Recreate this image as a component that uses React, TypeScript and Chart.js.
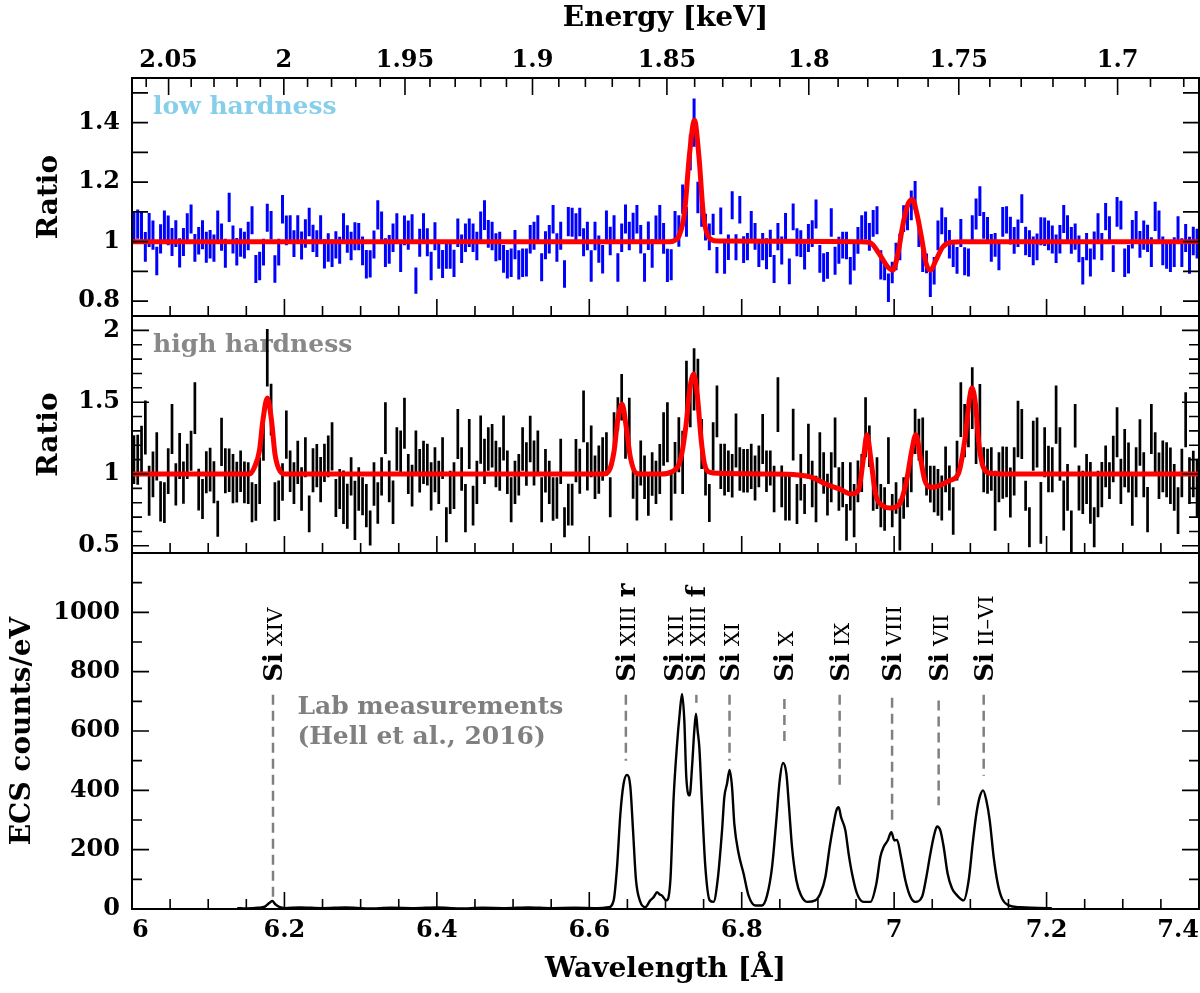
import React, { useEffect, useRef } from 'react';
import { Chart, registerables } from 'chart.js';

Chart.register(...registerables);
Chart.defaults.font.family = 'DejaVu Serif';
Chart.defaults.color = '#000';

const HC = 12.39842; // keV * Angstrom, for the energy axis on top

// ratio spectra share one wavelength grid (bin centres)
const binStart = 6.0025;
const binWidth = 0.005;

const waveTicks = [6, 6.2, 6.4, 6.6, 6.8, 7, 7.2, 7.4];
const energyTicks = [2.05, 2, 1.95, 1.9, 1.85, 1.8, 1.75, 1.7];
const lowTicks = [0.8, 1, 1.2, 1.4];
const highTicks = [0.5, 1, 1.5, 2];
const labTicks = [0, 200, 400, 600, 800, 1000];

// low hardness ratio, one value per bin
const lowRatio = [
  1.05,
  1.059, 1.054, 0.982, 1.039, 1.022, 0.935, 1.009, 1.055, 1.038, 0.999,
  1.027, 0.962, 0.999, 1.046, 1.076, 0.979, 1.003, 1.023, 0.981, 0.991,
  0.978, 1.055, 1.015, 0.961, 1.115, 1.007, 0.966, 0.997, 0.988, 1.019,
  1.072, 0.908, 0.918, 0.965, 1.080, 1.055, 0.908, 0.965, 1.109, 1.038,
  1.041, 0.993, 1.041, 0.987, 1.027, 1.066, 1.011, 0.993, 1.041, 0.959,
  0.980, 0.961, 0.989, 0.971, 1.047, 1.009, 0.985, 1.018, 1.017, 0.969,
  0.924, 0.925, 0.990, 1.090, 1.053, 0.963, 0.974, 1.013, 1.047, 0.947,
  1.038, 1.022, 1.043, 0.869, 0.996, 1.047, 0.998, 0.918, 1.018, 0.953,
  0.925, 0.954, 0.954, 0.927, 1.030, 0.976, 1.013, 1.030, 1.013, 0.985,
  1.053, 1.089, 1.026, 1.019, 0.981, 0.985, 0.942, 0.924, 0.929, 0.990,
  0.922, 0.929, 0.930, 1.008, 1.020, 1.041, 0.914, 0.988, 1.008, 1.075,
  0.980, 1.020, 0.891, 1.067, 1.065, 1.047, 1.066, 0.998, 1.019, 0.918,
  1.019, 0.975, 0.941, 1.055, 1.002, 1.041, 0.913, 1.013, 1.076, 1.019,
  1.048, 1.075, 1.008, 0.913,
  1.02, 0.96, 1.04,
  1.064, 1.011, 0.920, 0.922, 1.054, 1.036, 1.143, 1.066, 1.300, 1.400,
  1.148, 1.100, 1.049, 1.016, 1.058, 0.938, 1.070, 0.948, 0.981, 1.122,
  0.981, 1.107, 0.973, 0.983, 1.055, 1.018, 0.961, 0.983, 0.959, 0.994,
  0.908, 1.017, 0.970, 1.050, 0.900, 1.083, 0.998, 0.993, 0.950, 1.012,
  1.027, 1.093, 0.942, 0.913, 0.920, 1.064, 0.936, 0.971, 0.988, 0.987,
  0.902, 0.948, 1.004, 1.041, 1.054, 1.016, 1.061, 1.072, 0.922, 0.904,
  0.845, 0.896, 0.950, 0.982, 1.077, 1.083, 1.122, 1.155, 1.027, 0.937,
  0.927, 0.862, 0.902, 1.021, 1.070, 1.035, 0.991, 0.960, 0.937, 1.029,
  0.934, 0.930, 1.041, 1.093, 1.136, 1.055, 1.038, 0.979, 0.989, 0.954,
  1.066, 1.073, 1.037, 1.004, 1.028, 1.111, 1.002, 0.993, 0.969, 0.982,
  1.035, 1.033, 1.021, 1.007, 0.976, 1.008, 1.076, 1.041, 1.004, 1.017,
  0.976, 0.902, 0.983, 0.930, 0.987, 1.047, 0.983, 1.084, 1.040, 0.943,
  1.100, 1.089, 0.929, 0.941, 1.025, 1.055, 0.991, 1.022, 1.011, 0.965,
  1.085, 1.055, 0.969, 0.957, 0.946, 0.965, 1.039, 0.963, 1.012, 0.954,
  1.002, 0.993,
];

// half error bar length, in units of 0.001
const lowErrMilli = [
  49,
  49, 48, 50, 57, 49, 48, 49, 50, 50, 47, 45, 49, 47, 49, 49, 47, 46, 49, 52, 48,
  46, 50, 46, 49, 49, 47, 46, 48, 45, 48, 47, 47, 48, 45, 47, 48, 46, 45, 48, 50,
  48, 45, 48, 47, 48, 48, 46, 45, 48, 49, 48, 46, 46, 45, 48, 46, 48, 47, 46, 48,
  48, 46, 47, 49, 48, 48, 48, 48, 48, 49, 50, 49, 49, 44, 47, 48, 47, 48, 47, 44,
  47, 45, 45, 46, 48, 48, 48, 48, 48, 48, 48, 50, 47, 48, 47, 48, 47, 48, 48, 49,
  49, 48, 47, 48, 47, 48, 47, 47, 48, 48, 48, 47, 46, 49, 49, 48, 48, 47, 48, 53,
  48, 46, 48, 50, 48, 48, 48, 48, 49, 48, 49, 48, 48, 48,
  48, 48, 48,
  59, 52, 56, 52, 49, 53, 49, 50, 60, 81, 53, 50, 45, 45, 36, 44, 45, 56, 43, 47,
  44, 46, 45, 46, 48, 45, 46, 46, 52, 46, 47, 46, 47, 46, 43, 45, 47, 45, 44, 47,
  45, 49, 47, 48, 45, 48, 47, 45, 45, 46, 46, 45, 45, 48, 47, 47, 45, 47, 49, 34,
  48, 36, 46, 45, 45, 45, 50, 49, 45, 39, 33, 48, 46, 50, 45, 47, 48, 45, 45, 47,
  47, 47, 48, 52, 50, 45, 45, 47, 40, 50, 50, 46, 47, 45, 46, 48, 48, 45, 48, 45,
  47, 48, 50, 47, 48, 48, 47, 48, 45, 44, 45, 46, 46, 47, 47, 48, 46, 46, 45, 45,
  50, 48, 48, 48, 48, 48, 45, 49, 46, 50, 49, 50, 48, 48, 48, 50, 46, 48, 47, 62,
  48, 50,
];

// high hardness ratio, one value per bin
const highRatio = [
  1.10,
  1.100, 1.162, 1.323, 0.884, 0.998, 1.123, 0.810, 0.800, 1.020, 1.313,
  0.928, 1.125, 0.940, 1.088, 1.162, 1.459, 0.891, 0.826, 1.012, 1.030,
  0.942, 0.689, 1.223, 1.023, 1.026, 0.968, 0.944, 1.019, 0.942, 0.937,
  0.803, 0.803, 0.954, 1.220, 1.810, 1.448, 0.807, 0.817, 0.944, 1.274,
  1.019, 0.937, 1.081, 0.896, 1.116, 0.722, 1.026, 1.058, 0.961, 1.077,
  1.123, 1.193, 0.833, 0.896, 0.838, 0.775, 0.984, 0.747, 0.896, 0.845,
  0.780, 0.624, 0.930, 0.798, 0.984, 1.320, 0.949, 0.803, 1.174, 1.151,
  1.353, 1.000, 0.919, 1.158, 1.023, 1.081, 1.065, 0.914, 1.030, 0.942,
  1.111, 0.647, 0.872, 0.919, 1.278, 1.035, 0.763, 1.209, 0.780, 0.942,
  1.239, 1.088, 1.174, 1.197, 1.070, 1.035, 1.251, 1.012, 0.821, 0.942,
  0.995, 1.174, 1.070, 1.244, 1.077, 1.151, 0.821, 1.023, 0.942, 0.826,
  0.833, 1.088, 0.664, 0.787, 0.787, 1.093, 1.019, 1.401, 1.053, 1.158,
  0.977, 1.030, 1.104, 1.139, 0.838, 1.297, 1.418, 1.534, 1.239, 1.364,
  0.937, 0.833, 1.077, 0.977, 0.849, 1.000, 0.942,
  1.035, 1.244, 1.290, 0.838, 1.042, 1.204, 1.081, 1.615, 1.487, 1.659,
  1.622, 1.209, 0.949, 0.798, 1.193, 1.436, 1.053, 1.030, 1.019, 0.988,
  1.234, 1.035, 1.023, 1.023, 1.053, 0.972, 1.053, 1.244, 1.019, 1.042,
  0.896, 1.483, 0.914, 0.833, 0.833, 1.274, 0.791, 0.977, 0.826, 1.158,
  0.930, 0.826, 1.116, 1.007, 0.856, 0.977, 1.220, 0.896, 0.926, 0.664,
  0.914, 0.745, 0.949, 1.007, 1.325, 1.193, 0.884, 0.937, 0.780, 0.756,
  1.093, 0.745, 0.833, 0.647, 0.833, 0.872, 1.012, 1.297, 1.239, 1.220,
  1.007, 0.930, 0.896, 0.872, 0.833, 1.032, 0.903, 0.742, 1.093, 1.448,
  1.302, 1.348, 1.529, 1.220, 1.401, 1.030, 1.019, 1.035, 0.814, 0.977,
  1.009, 1.014, 0.872, 1.019, 1.313, 1.278, 0.849, 0.629, 1.197, 1.220,
  0.729, 1.151, 1.035, 1.030, 1.413, 1.139, 0.780, 0.907, 0.601, 1.336,
  0.903, 0.872, 0.965, 0.868, 0.629, 0.861, 0.926, 1.053, 0.954, 1.104,
  1.290, 0.949, 1.111, 1.046, 0.814, 1.012, 1.220, 0.995, 0.752, 1.313,
  1.146, 0.988, 1.053, 1.030, 0.988, 0.907, 0.745, 1.007, 1.378, 0.954,
  1.000, 0.903,
];

const highErrMilli = [
  170,
  174, 174, 188, 174, 159, 168, 140, 142, 160, 174, 147, 160, 147, 122, 139, 180, 145, 139, 146, 152,
  146, 125, 168, 157, 152, 172, 142, 145, 145, 145, 139, 128, 162, 128, 200, 180, 136, 137, 130, 168,
  145, 145, 151, 151, 139, 128, 153, 151, 157, 133, 145, 168, 133, 139, 186, 157, 133, 206, 151, 133,
  151, 122, 151, 145, 133, 180, 145, 151, 151, 151, 177, 139, 145, 145, 151, 151, 145, 168, 157, 151,
  145, 122, 151, 162, 174, 151, 168, 174, 139, 151, 168, 157, 151, 151, 162, 151, 157, 151, 157, 151,
  145, 151, 151, 162, 157, 151, 157, 151, 151, 151, 145, 157, 104, 145, 145, 151, 157, 180, 168, 180,
  151, 168, 151, 151, 139, 133, 116, 162, 133, 166, 110, 157, 157, 151, 139, 151, 151,
  174, 186, 209, 162, 180, 191, 220, 174, 162, 217, 180, 174, 99, 133, 168, 180, 157, 180, 145, 151,
  188, 151, 151, 151, 157, 157, 145, 174, 145, 122, 162, 191, 145, 157, 157, 180, 139, 162, 104, 191,
  162, 162, 174, 145, 145, 174, 174, 151, 157, 128, 168, 186, 145, 133, 209, 145, 139, 180, 151, 151,
  162, 116, 110, 180, 145, 104, 139, 157, 145, 174, 157, 128, 162, 162, 157, 159, 157, 165, 139, 191,
  186, 162, 215, 151, 226, 157, 157, 151, 209, 174, 182, 176, 174, 168, 197, 174, 104, 139, 174, 174,
  215, 174, 162, 157, 203, 186, 174, 162, 145, 151, 157, 151, 174, 215, 139, 162, 157, 145, 128, 162,
  174, 157, 203, 174, 174, 174, 162, 157, 157, 174, 145, 162, 180, 191, 197, 162, 162, 168, 191, 162,
  162, 203,
];

// fitted models (red)
const lowModelX = [6.0, 6.705, 6.7113, 6.718, 6.7248, 6.7316, 6.738, 6.7439, 6.7496, 6.7565, 6.7677, 6.955, 6.9689, 6.9802, 6.9915, 6.9982, 7.005, 7.0118, 7.0185, 7.024, 7.0298, 7.0366, 7.042, 7.0479, 7.0547, 7.0638, 7.075, 7.09, 7.4];
const lowModelY = [1, 1, 1.003, 1.021, 1.094, 1.296, 1.408, 1.285, 1.094, 1.016, 1.002, 1, 0.996, 0.96, 0.915, 0.904, 0.96, 1.061, 1.128, 1.142, 1.094, 1.004, 0.926, 0.904, 0.937, 0.982, 0.998, 1, 1];

const highModelX = [6.0, 6.154, 6.1605, 6.1672, 6.1717, 6.1776, 6.1831, 6.1876, 6.1943, 6.2011, 6.618, 6.6259, 6.6326, 6.6372, 6.643, 6.6485, 6.6539, 6.662, 6.67, 6.695, 6.7067, 6.7204, 6.7271, 6.7316, 6.737, 6.742, 6.7465, 6.7511, 6.7587, 6.77, 6.8288, 6.8739, 6.892, 6.9101, 6.9282, 6.944, 6.953, 6.9599, 6.9643, 6.9697, 6.9756, 6.9846, 6.9959, 7.0072, 7.0163, 7.0231, 7.0285, 7.0344, 7.0403, 7.0479, 7.0592, 7.0728, 7.0841, 7.0932, 7.0985, 7.1021, 7.1067, 7.1112, 7.1171, 7.127, 7.145, 7.4];
const highModelY = [1, 1, 1.046, 1.162, 1.371, 1.529, 1.371, 1.139, 1.019, 1, 1, 1.023, 1.162, 1.371, 1.487, 1.325, 1.116, 1.005, 1, 1, 1.012, 1.116, 1.348, 1.58, 1.696, 1.534, 1.255, 1.07, 1.012, 1.005, 1, 0.993, 0.977, 0.93, 0.896, 0.861, 0.884, 1.116, 1.274, 1.093, 0.861, 0.78, 0.763, 0.791, 0.954, 1.162, 1.274, 1.116, 0.954, 0.907, 0.919, 0.954, 1.0, 1.255, 1.51, 1.599, 1.487, 1.209, 1.046, 1.005, 1, 1];

// lab spectrum (ECS counts/eV)
const labWave = [6.138, 6.15, 6.165, 6.175, 6.18, 6.184, 6.188, 6.194, 6.2, 6.22, 6.25, 6.28, 6.31, 6.34, 6.37, 6.4, 6.43, 6.46, 6.49, 6.52, 6.55, 6.58, 6.61, 6.625, 6.632, 6.6364, 6.6408, 6.645, 6.6495, 6.6539, 6.6574, 6.6613, 6.667, 6.6735, 6.68, 6.6845, 6.689, 6.692, 6.6955, 6.701, 6.7064, 6.7107, 6.7152, 6.7186, 6.7217, 6.7247, 6.7273, 6.7317, 6.7348, 6.7378, 6.74, 6.7421, 6.7444, 6.7479, 6.7523, 6.758, 6.763, 6.7684, 6.7742, 6.7772, 6.7807, 6.7841, 6.7873, 6.7903, 6.796, 6.8025, 6.809, 6.8179, 6.8266, 6.8332, 6.8398, 6.8454, 6.8498, 6.8542, 6.8586, 6.8621, 6.866, 6.8717, 6.8778, 6.8857, 6.8966, 6.9032, 6.9097, 6.9154, 6.9198, 6.9242, 6.9272, 6.9303, 6.936, 6.9403, 6.9448, 6.9513, 6.96, 6.9688, 6.9767, 6.9819, 6.9862, 6.9915, 6.9963, 7.0003, 7.0038, 7.009, 7.0147, 7.0213, 7.0278, 7.0366, 7.0422, 7.0475, 7.0518, 7.0563, 7.0606, 7.065, 7.0702, 7.076, 7.0825, 7.0912, 7.0978, 7.1035, 7.1079, 7.1122, 7.1167, 7.121, 7.1254, 7.1306, 7.1359, 7.1416, 7.1502, 7.1656, 7.18, 7.2006, 7.207];
const labCounts = [3, 2, 4, 9, 20, 27, 16, 6, 3, 5, 3, 5, 2, 4, 3, 5, 2, 4, 3, 5, 3, 4, 3, 6, 29, 141, 321, 422, 452, 411, 265, 97, 24, 6, 29, 40, 57, 50, 45, 29, 97, 377, 557, 658, 725, 635, 444, 383, 478, 602, 658, 602, 545, 355, 141, 29, 24, 97, 265, 377, 422, 469, 411, 287, 186, 119, 45, 12, 12, 45, 141, 299, 433, 492, 456, 343, 209, 97, 46, 24, 29, 52, 107, 209, 276, 332, 343, 310, 265, 186, 119, 52, 24, 24, 86, 175, 209, 231, 259, 231, 233, 175, 97, 41, 24, 41, 107, 186, 242, 278, 265, 209, 119, 69, 46, 29, 97, 231, 321, 377, 400, 366, 299, 175, 86, 35, 12, 6, 4, 3, 2];

// line identifications
const siWave = [6.185, 6.648, 6.711, 6.7405, 6.784, 6.856, 6.9285, 6.9973, 7.0584, 7.1175];
const siIon = ['XIV', 'XIII', 'XII', 'XIII', 'XI', 'X', 'IX', 'VIII', 'VII', 'II\u2013VI'];
const siTag = ['', 'r', '', 'f', '', '', '', '', '', ''];
const siDashTop = [722, 722, null, 722, 722, 708, 722, 712, 703, 722];
const siDashBottom = [24, 500, null, 695, 500, 551, 400, 289, 350, 449];
const siLabelBase = 766;
const labNote = ['Lab measurements', '(Hell et al., 2016)'];
const labNoteWave = 6.217;
const labNoteCounts = [680, 579];

const tickFont = { size: 24, weight: 'bold' };
const titleFont = { size: 28, weight: 'bold' };

const steps = (min: number, max: number, step: number) => {
  const out: number[] = [];
  for (let k = Math.ceil(min / step - 1e-6); k * step <= max + 1e-6; k++) out.push(k * step);
  return out;
};

// box with inward ticks, as in the original figure
const framePlugin = {
  id: 'frame',
  afterDatasetsDraw(chart: any, _args: any, opts: any) {
    const { ctx, chartArea: a } = chart;
    const xs = chart.scales.x;
    const ys = chart.scales.y;
    ctx.save();
    ctx.strokeStyle = '#000';
    ctx.lineWidth = 1.6;
    ctx.beginPath();
    const yTick = (v: number, len: number) => {
      const p = ys.getPixelForValue(v);
      ctx.moveTo(a.left, p);
      ctx.lineTo(a.left + len, p);
      ctx.moveTo(a.right, p);
      ctx.lineTo(a.right - len, p);
    };
    steps(ys.min, ys.max, opts.yMinor).forEach((v) => yTick(v, opts.yMinorLen));
    opts.yMajor.forEach((v: number) => yTick(v, opts.yMajorLen));
    const xTick = (v: number, len: number) => {
      const p = xs.getPixelForValue(v);
      ctx.moveTo(p, a.bottom);
      ctx.lineTo(p, a.bottom - len);
    };
    steps(6, 7.4, 0.05).forEach((v) => xTick(v, 10));
    waveTicks.forEach((v) => xTick(v, 17));
    if (opts.energy) {
      const eTick = (e: number, len: number) => {
        const p = xs.getPixelForValue(HC / e);
        ctx.moveTo(p, a.top);
        ctx.lineTo(p, a.top + len);
      };
      steps(HC / 7.4, HC / 6, 0.01).forEach((e) => eTick(e, 9));
      energyTicks.forEach((e) => eTick(e, 17));
    }
    ctx.stroke();
    ctx.lineWidth = 2;
    ctx.strokeRect(a.left, a.top, a.right - a.left, a.bottom - a.top);
    ctx.restore();
  },
};

const panelLabelPlugin = {
  id: 'panelLabel',
  beforeDatasetsDraw(chart: any, _args: any, opts: any) {
    if (!opts.text) return;
    const { ctx, chartArea } = chart;
    ctx.save();
    ctx.font = 'bold 25px "DejaVu Serif"';
    ctx.fillStyle = opts.color;
    ctx.textBaseline = 'middle';
    ctx.fillText(opts.text, chartArea.left + 21, chartArea.top + 29);
    ctx.restore();
  },
};

const siPlugin = {
  id: 'siLabels',
  afterDatasetsDraw(chart: any) {
    const { ctx } = chart;
    const xs = chart.scales.x;
    const ys = chart.scales.y;
    const base = ys.getPixelForValue(siLabelBase);
    ctx.save();
    ctx.fillStyle = '#000';
    ctx.textBaseline = 'alphabetic';
    ctx.textAlign = 'left';
    siWave.forEach((w, i) => {
      const x = xs.getPixelForValue(w);
      ctx.save();
      ctx.translate(x + 9, base);
      ctx.rotate(-Math.PI / 2);
      ctx.font = 'bold 26px "DejaVu Serif"';
      ctx.fillText('Si', 0, 0);
      let pos = ctx.measureText('Si').width + 7;
      ctx.font = '21px "DejaVu Serif"';
      ctx.fillText(siIon[i], pos, 0);
      pos += ctx.measureText(siIon[i]).width + 9;
      if (siTag[i]) {
        ctx.font = 'bold 26px "DejaVu Serif"';
        ctx.fillText(siTag[i], pos, 0);
      }
      ctx.restore();
    });
    ctx.fillStyle = '#808080';
    ctx.font = 'bold 25px "DejaVu Serif"';
    ctx.textBaseline = 'middle';
    labNote.forEach((t, i) => {
      ctx.fillText(t, xs.getPixelForValue(labNoteWave), ys.getPixelForValue(labNoteCounts[i]));
    });
    ctx.restore();
  },
};

const pairs = (xs: number[], ys: number[]) => xs.map((x, i) => ({ x, y: ys[i] }));

const errorBars = (vals: number[], errMilli: number[]) =>
  vals.flatMap((v, i) => {
    const x = binStart + i * binWidth;
    const e = errMilli[i] / 1000;
    return [{ x, y: v - e }, { x, y: v + e }, { x, y: null }];
  });

const yAxis = (min: number, max: number, ticks: number[], title: string, titlePad: number) => ({
  min,
  max,
  afterBuildTicks: (s: any) => { s.ticks = ticks.map((value) => ({ value })); },
  afterFit: (s: any) => { s.width = 132; },
  grid: { display: false, drawTicks: false },
  border: { display: false },
  ticks: { font: tickFont, padding: 12, callback: (v: number) => String(v) },
  title: { display: true, text: title, font: titleFont, padding: { top: titlePad, bottom: 0 } },
});

const hiddenX = { type: 'linear', min: 6, max: 7.4, display: false };

const baseOptions = (padTop: number, padBottom: number) => ({
  animation: false,
  responsive: false,
  layout: { padding: { top: padTop, bottom: padBottom, left: 0, right: 1 } },
  elements: { point: { radius: 0 } },
});

function topConfig(): any {
  return {
    type: 'line',
    data: {
      datasets: [
        { data: pairs(lowModelX, lowModelY), borderColor: '#ff0000', borderWidth: 5, cubicInterpolationMode: 'monotone' },
        { data: errorBars(lowRatio, lowErrMilli), borderColor: '#0000ff', borderWidth: 3 },
      ],
    },
    options: {
      ...baseOptions(0, 677),
      scales: {
        x: hiddenX,
        xE: {
          type: 'linear',
          position: 'top',
          min: 6,
          max: 7.4,
          afterBuildTicks: (s: any) => { s.ticks = energyTicks.map((e) => ({ value: HC / e })); },
          afterFit: (s: any) => { s.height = 78; s.paddingLeft = 0; s.paddingRight = 0; },
          grid: { display: false, drawTicks: false },
          border: { display: false },
          ticks: { font: tickFont, padding: 3, maxRotation: 0, minRotation: 0, autoSkip: false, callback: (_v: number, i: number) => String(energyTicks[i]) },
          title: { display: true, text: 'Energy [keV]', font: titleFont, padding: { top: 2, bottom: 0 } },
        },
        y: yAxis(0.75, 1.55, lowTicks, 'Ratio', 33),
      },
      plugins: {
        legend: { display: false },
        tooltip: { enabled: false },
        frame: { yMajor: lowTicks, yMinor: 0.1, yMajorLen: 16, yMinorLen: 16, energy: true },
        panelLabel: { text: 'low hardness', color: '#87ceeb' },
      },
    },
    plugins: [framePlugin, panelLabelPlugin],
  };
}

function midConfig(): any {
  return {
    type: 'line',
    data: {
      datasets: [
        { data: pairs(highModelX, highModelY), borderColor: '#ff0000', borderWidth: 5, cubicInterpolationMode: 'monotone' },
        { data: errorBars(highRatio, highErrMilli), borderColor: '#000', borderWidth: 2.7 },
      ],
    },
    options: {
      ...baseOptions(316, 440),
      scales: {
        x: hiddenX,
        y: yAxis(0.45, 2.1, highTicks, 'Ratio', 33),
      },
      plugins: {
        legend: { display: false },
        tooltip: { enabled: false },
        frame: { yMajor: highTicks, yMinor: 0.1, yMajorLen: 17, yMinorLen: 10 },
        panelLabel: { text: 'high hardness', color: '#888888' },
      },
    },
    plugins: [framePlugin, panelLabelPlugin],
  };
}

function labConfig(): any {
  const dashes = siWave.flatMap((w, i) =>
    siDashTop[i] == null
      ? []
      : [{
          data: [{ x: w, y: siDashTop[i] }, { x: w, y: siDashBottom[i] }],
          borderColor: '#808080',
          borderWidth: 2.5,
          borderDash: [10, 6],
        }],
  );
  return {
    type: 'line',
    data: {
      datasets: [
        { data: pairs(labWave, labCounts), borderColor: '#000', borderWidth: 2.4, cubicInterpolationMode: 'monotone' },
        ...dashes,
      ],
    },
    options: {
      ...baseOptions(553, 0),
      scales: {
        x: {
          type: 'linear',
          position: 'bottom',
          min: 6,
          max: 7.4,
          afterBuildTicks: (s: any) => { s.ticks = waveTicks.map((value) => ({ value })); },
          afterFit: (s: any) => { s.height = 84; s.paddingLeft = 0; s.paddingRight = 0; },
          grid: { display: false, drawTicks: false },
          border: { display: false },
          ticks: { font: tickFont, padding: 7, align: 'inner', maxRotation: 0, minRotation: 0, autoSkip: false, callback: (v: number) => String(v) },
          title: { display: true, text: 'Wavelength [\u00c5]', font: titleFont, padding: { top: 0, bottom: 6 } },
        },
        y: yAxis(0, 1200, labTicks, 'ECS counts/eV', 6),
      },
      plugins: {
        legend: { display: false },
        tooltip: { enabled: false },
        frame: { yMajor: labTicks, yMinor: 100, yMajorLen: 17, yMinorLen: 10 },
      },
    },
    plugins: [framePlugin, siPlugin],
  };
}

export default function App() {
  const topRef = useRef<HTMLCanvasElement>(null);
  const midRef = useRef<HTMLCanvasElement>(null);
  const labRef = useRef<HTMLCanvasElement>(null);

  useEffect(() => {
    const charts = [
      new Chart(topRef.current!, topConfig()),
      new Chart(midRef.current!, midConfig()),
      new Chart(labRef.current!, labConfig()),
    ];
    return () => charts.forEach((c) => c.destroy());
  }, []);

  const canvasStyle: React.CSSProperties = { position: 'absolute', left: 0, top: 0 };
  return (
    <div style={{ position: 'absolute', left: 0, top: 0, width: 1200, height: 993, background: '#fff', overflow: 'hidden' }}>
      <canvas ref={topRef} width={1200} height={993} style={canvasStyle} />
      <canvas ref={midRef} width={1200} height={993} style={canvasStyle} />
      <canvas ref={labRef} width={1200} height={993} style={canvasStyle} />
    </div>
  );
}
